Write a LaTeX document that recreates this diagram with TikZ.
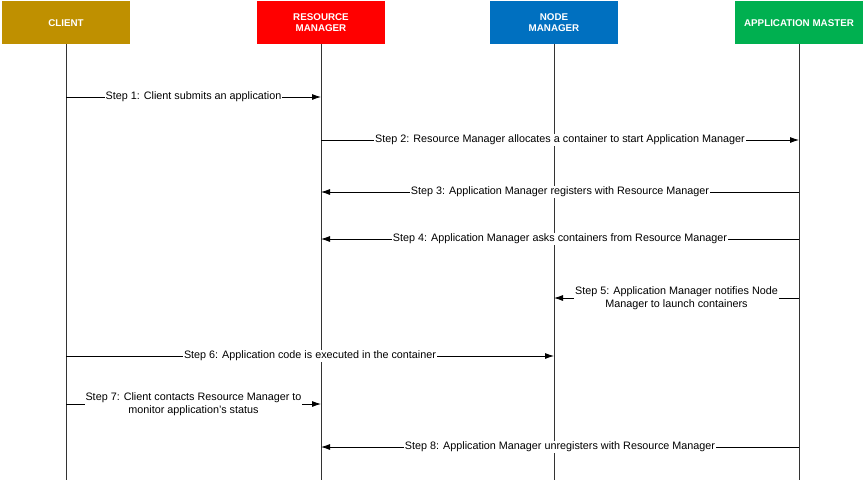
\documentclass[tikz,border=0pt]{standalone}
\usepackage{fontspec}
\setmainfont{Liberation Sans}
\usetikzlibrary{positioning,arrows.meta}
\definecolor{clientgold}{HTML}{BF9000}
\definecolor{rmred}{HTML}{FF0000}
\definecolor{nmblue}{HTML}{0070C0}
\definecolor{amgreen}{HTML}{00B050}
\definecolor{lifegray}{HTML}{333333}

\begin{document}
\begin{tikzpicture}[
    x=1pt,y=-1pt,
    every node/.style={font=\fontsize{10.8}{13.5}\selectfont},
    head/.style={rectangle,anchor=north,align=center,text=white,
      minimum width=128pt,minimum height=43pt,inner sep=1pt,
      font=\fontsize{9.8}{11.5}\selectfont\bfseries},
    life/.style={lifegray,line width=0.8pt},
    msg/.style={-{Latex[length=9pt,width=6pt]},black,line width=0.8pt},
    lbl/.style={fill=white,inner sep=1pt,align=center},
  ]
  \useasboundingbox[fill=white] (0,0) rectangle (864,480);
  % heads
  \node[head,fill=clientgold] (client) at (66,1) {CLIENT};
  \node[head,fill=rmred] (rm) at (321,1) {RESOURCE\\MANAGER};
  \node[head,fill=nmblue] (nm) at (554,1) {NODE\\MANAGER};
  \node[head,fill=amgreen] (am) at (799,1) {APPLICATION MASTER};
  % lifelines
  \coordinate (clientend) at (client.south |- 0,480);
  \coordinate (rmend) at (rm.south |- 0,480);
  \coordinate (nmend) at (nm.south |- 0,480);
  \coordinate (amend) at (am.south |- 0,480);
  \draw[life] (client.south) -- (clientend);
  \draw[life] (rm.south) -- (rmend);
  \draw[life] (nm.south) -- (nmend);
  \draw[life] (am.south) -- (amend);
  % messages
  \draw[msg] (client.south |- 0,97) -- node[lbl] {Step 1: Client submits an application} (rm.south |- 0,97);
  \draw[msg] (rm.south |- 0,140) -- node[lbl] {Step 2: Resource Manager allocates a container to start Application Manager} (am.south |- 0,140);
  \draw[msg] (am.south |- 0,192) -- node[lbl] {Step 3: Application Manager registers with Resource Manager} (rm.south |- 0,192);
  \draw[msg] (am.south |- 0,239) -- node[lbl] {Step 4: Application Manager asks containers from Resource Manager} (rm.south |- 0,239);
  \draw[msg] (am.south |- 0,298) -- node[lbl] {Step 5: Application Manager notifies Node\\Manager to launch containers} (nm.south |- 0,298);
  \draw[msg] (client.south |- 0,356) -- node[lbl] {Step 6: Application code is executed in the container} (nm.south |- 0,356);
  \draw[msg] (client.south |- 0,404) -- node[lbl] {Step 7: Client contacts Resource Manager to\\monitor application's status} (rm.south |- 0,404);
  \draw[msg] (am.south |- 0,447) -- node[lbl] {Step 8: Application Manager unregisters with Resource Manager} (rm.south |- 0,447);
\end{tikzpicture}
\end{document}
